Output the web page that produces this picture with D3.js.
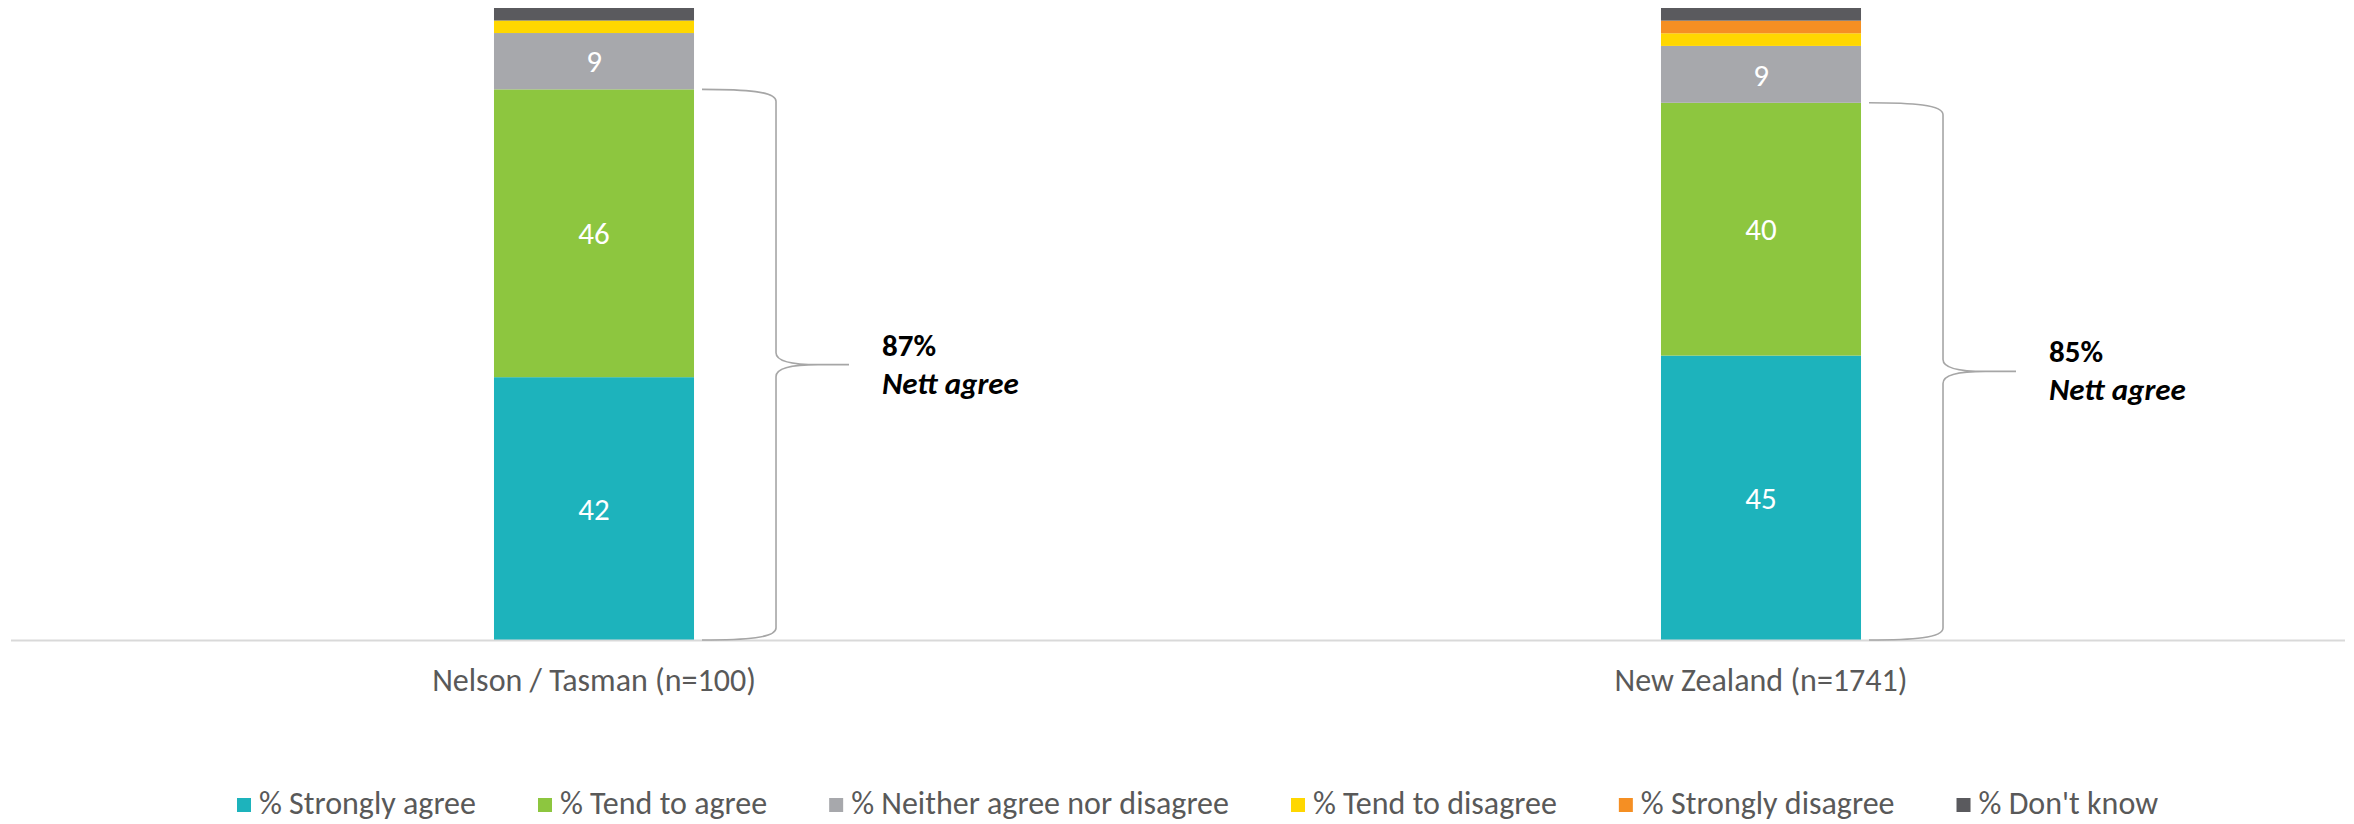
<!DOCTYPE html>
<html>
<head>
<meta charset="utf-8">
<script src="https://cdn.jsdelivr.net/npm/d3@7"></script>
<style>
  html, body { margin: 0; padding: 0; background: #ffffff; }
  svg { display: block; }
  text { font-family: Carlito, Calibri, Lato, sans-serif; }
</style>
</head>
<body>
<svg id="chart" width="2354" height="824"></svg>
<script>
// Survey responses by area (percent of respondents)
const categories = ["Nelson / Tasman (n=100)", "New Zealand (n=1741)"];
const stronglyAgree    = [42, 45];
const tendToAgree      = [46, 40];
const neither          = [9, 9];
const tendToDisagree   = [2, 2];
const stronglyDisagree = [0, 2];
const dontKnow         = [2, 2];
const nettAgree        = [87, 85];

const seriesNames = [
  "% Strongly agree",
  "% Tend to agree",
  "% Neither agree nor disagree",
  "% Tend to disagree",
  "% Strongly disagree",
  "% Don't know"
];
const seriesValues = [stronglyAgree, tendToAgree, neither, tendToDisagree, stronglyDisagree, dontKnow];
const seriesColors = ["#1DB3BC", "#8DC63F", "#A7A8AC", "#FFD700", "#F58F23", "#5A5A5E"];

// Rows for d3.stack
const rows = categories.map((c, i) => {
  const r = { category: c };
  seriesNames.forEach((s, k) => { r[s] = seriesValues[k][i]; });
  return r;
});

const svg = d3.select("#chart");
const baseY = 640, topY = 8;

const x = d3.scaleBand()
  .domain(categories)
  .range([10.5, 2344.5])
  .paddingInner(0.8286)
  .paddingOuter(0.4143);

// 100% stacked columns
const y = d3.scaleLinear().domain([0, 1]).range([baseY, topY]);

const stacked = d3.stack()
  .keys(seriesNames)
  .offset(d3.stackOffsetExpand)(rows);

const layers = svg.append("g").selectAll("g.layer")
  .data(stacked)
  .join("g")
  .attr("class", "layer")
  .attr("fill", (d, i) => seriesColors[i]);

layers.selectAll("rect")
  .data(d => d.map(p => ({ p, key: d.key })))
  .join("rect")
  .attr("x", d => x(d.p.data.category))
  .attr("width", x.bandwidth())
  .attr("y", d => y(d.p[1]))
  .attr("height", d => y(d.p[0]) - y(d.p[1]));

// Value labels inside the larger segments
layers.selectAll("text")
  .data(d => d.map(p => ({ p, key: d.key })).filter(d => d.p.data[d.key] >= 5))
  .join("text")
  .attr("x", d => x(d.p.data.category) + x.bandwidth() / 2)
  .attr("y", d => (y(d.p[0]) + y(d.p[1])) / 2)
  .attr("dy", "0.36em")
  .attr("text-anchor", "middle")
  .attr("fill", "#ffffff")
  .attr("font-size", 31)
  .text(d => d.p.data[d.key]);

// Category axis
const axis = svg.append("g")
  .attr("transform", `translate(0,${baseY})`)
  .call(d3.axisBottom(x).tickSize(0).tickSizeOuter(0));
axis.select(".domain").attr("stroke", "#D9D9D9").attr("stroke-width", 2);
axis.selectAll(".tick text")
  .attr("y", 51)
  .attr("dy", 0)
  .attr("fill", "#595959")
  .attr("font-size", 32);

// Braces spanning the agree segments, with nett agree notes
const agreeTop = stacked[1];
const braceG = svg.append("g");
categories.forEach((c, i) => {
  const x0 = x(c) + x.bandwidth();
  const yTop = y(agreeTop[i][1]);
  const yBot = y(0);
  const yMid = (yTop + yBot) / 2;
  const tipX = x0 + 8, vX = x0 + 82, pX = x0 + 155;
  const path = d3.path();
  path.moveTo(tipX, yTop);
  path.bezierCurveTo(vX - 30, yTop, vX, yTop + 2, vX, yTop + 12);
  path.lineTo(vX, yMid - 12);
  path.bezierCurveTo(vX, yMid - 2, vX + 20, yMid, vX + 42, yMid);
  path.lineTo(pX, yMid);
  path.moveTo(vX + 42, yMid);
  path.bezierCurveTo(vX + 20, yMid, vX, yMid + 2, vX, yMid + 12);
  path.lineTo(vX, yBot - 12);
  path.bezierCurveTo(vX, yBot - 2, vX - 30, yBot, tipX, yBot);
  braceG.append("path")
    .attr("d", path.toString())
    .attr("fill", "none")
    .attr("stroke", "#A6A6A6")
    .attr("stroke-width", 1.6);

  const tx = x0 + 188;
  const note = braceG.append("text")
    .attr("x", tx)
    .attr("fill", "#000000")
    .attr("font-weight", "bold")
    .attr("font-size", 31);
  note.append("tspan").attr("x", tx).attr("y", yMid - 9).text(nettAgree[i] + "%");
  note.append("tspan").attr("x", tx).attr("y", yMid + 29).attr("font-style", "italic").text("Nett agree");
});

// Legend, laid out left to right between fixed bounds
const legendLeft = 237, legendRight = 2158, legendBase = 814, sw = 14, textOff = 22;
const legend = svg.append("g");
const items = seriesNames.map((s, k) => {
  const g = legend.append("g");
  g.append("rect").attr("width", sw).attr("height", sw).attr("y", legendBase - 16).attr("fill", seriesColors[k]);
  const t = g.append("text").attr("x", textOff).attr("y", legendBase)
    .attr("fill", "#595959").attr("font-size", 32).text(s);
  return { g, w: textOff + t.node().getComputedTextLength() };
});
const totalW = d3.sum(items, d => d.w);
const gap = (legendRight - legendLeft - totalW) / (items.length - 1);
let cx = legendLeft;
items.forEach(it => { it.g.attr("transform", `translate(${cx},0)`); cx += it.w + gap; });
</script>
</body>
</html>
